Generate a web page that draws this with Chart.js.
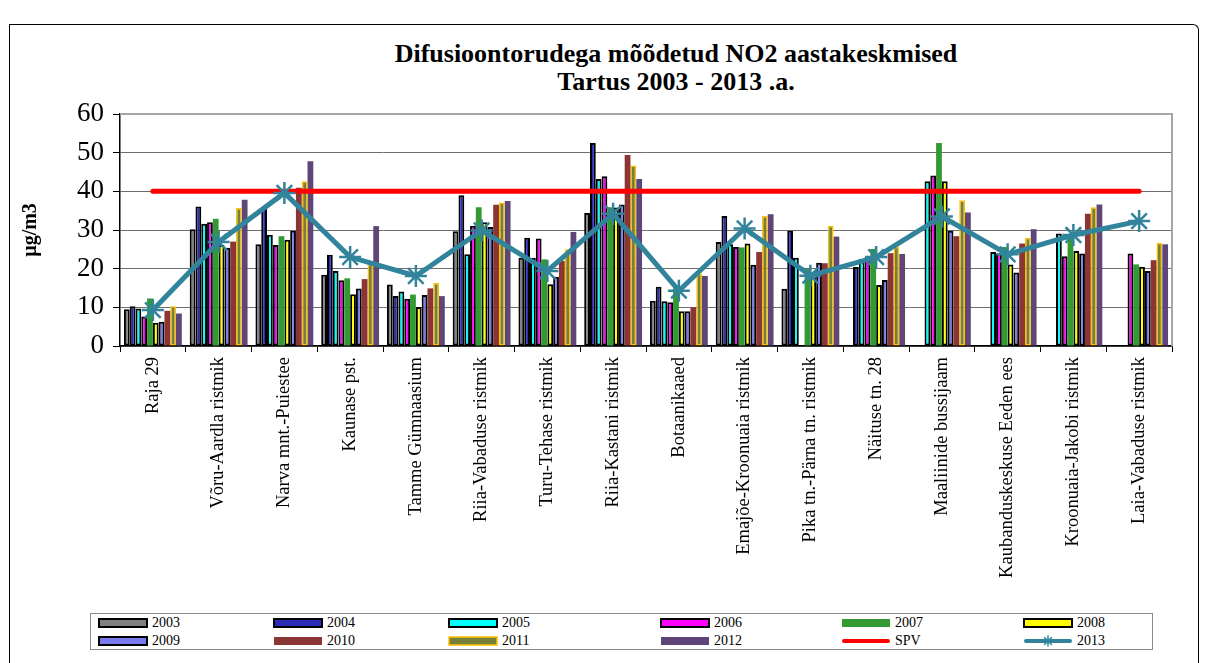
<!DOCTYPE html>
<html>
<head>
<meta charset="utf-8">
<script src="https://cdn.jsdelivr.net/npm/chart.js@4.4.1/dist/chart.umd.min.js"></script>
<style>
  body { margin: 0; background: #fff; }
  #page { position: relative; width: 1205px; height: 663px; overflow: hidden; font-family: "Liberation Serif", "Times New Roman", serif; }
  #frame { position: absolute; left: 9px; top: 24px; width: 1188px; height: 700px; border-left: 1px solid #000; border-top: 1px solid #000; border-right: 1px solid #000; border-top-right-radius: 6px; }
  #title { position: absolute; left: 276px; top: 40px; width: 800px; text-align: center; font-weight: bold; font-size: 26px; line-height: 28px; color: #000; }
  #c { position: absolute; left: 0; top: 0; }
  #legend { position: absolute; left: 90px; top: 613px; width: 1061px; height: 35px; border: 1px solid #8c8c8c; background: #fff; }
  .item { position: absolute; height: 16px; font-size: 14px; line-height: 16px; color: #000; white-space: nowrap; }
  .item canvas { vertical-align: middle; margin-right: 4px; position: relative; top: -1px; }
</style>
</head>
<body>
<div id="page">
  <div id="frame"></div>
  <div id="title">Difusioontorudega mõõdetud NO2 aastakeskmised<br>Tartus 2003 - 2013 .a.</div>
  <canvas id="c" width="1205" height="663"></canvas>
  <div id="legend"></div>
</div>
<script>
const stations = ['Raja 29', 'Võru-Aardla ristmik', 'Narva mnt.-Puiestee', 'Kaunase pst.', 'Tamme Gümnaasium',
    'Riia-Vabaduse ristmik', 'Turu-Tehase ristmik', 'Riia-Kastani ristmik', 'Botaanikaaed',
    'Emajõe-Kroonuaia ristmik', 'Pika tn.-Pärna tn. ristmik', 'Näituse tn. 28', 'Maaliinide bussijaam',
    'Kaubanduskeskuse Eeden ees', 'Kroonuaia-Jakobi ristmik', 'Laia-Vabaduse ristmik'];

const years = ['2003', '2004', '2005', '2006', '2007', '2008', '2009', '2010', '2011', '2012'];

const y2003 = [9.5, 30.2, 26.3, 18.4, 15.9, 29.7, 22.8, 34.4, 11.7, 26.9, 14.8, null, null, null, null, null];
const y2004 = [10.3, 36.1, 35.8, 23.6, 12.9, 39.0, 28.0, 52.5, 15.3, 33.6, 29.8, 20.4, null, null, null, null];
const y2005 = [9.7, 31.6, 28.8, 19.4, 14.1, 23.7, 22.8, 43.2, 11.6, 26.3, 22.8, 22.5, 42.6, 24.3, 29.1, null];
const y2006 = [7.6, 32.0, 26.1, 17.0, 12.2, 31.1, 27.8, 43.9, 11.3, 25.6, null, 23.0, 44.1, 23.9, 23.2, 23.9];
const y2007 = [12.3, 32.9, 28.4, 17.5, 13.3, 35.9, 22.4, 35.9, 14.9, 25.5, 19.9, 25.1, 52.5, 25.6, 28.4, 21.1];
const y2008 = [6.0, 26.2, 27.5, 13.4, 10.1, 32.0, 16.0, 35.8, 9.0, 26.5, 17.8, 15.8, 42.6, 21.1, 24.6, 20.5];
const y2009 = [6.3, 25.4, 29.8, 14.9, 13.2, 30.8, 17.9, 36.6, 9.0, 21.0, 21.5, 17.1, 29.8, 19.0, 23.9, 19.4];
const y2010 = [9.1, 27.0, 40.9, 17.3, 14.9, 36.5, 22.0, 49.4, 10.0, 24.3, 21.4, 24.0, 28.4, 26.5, 34.2, 22.2];
const y2011 = [10.3, 35.7, 42.6, 21.3, 16.3, 37.1, 25.0, 46.7, 18.7, 33.6, 31.1, 25.7, 37.7, 28.0, 35.9, 26.7];
const y2012 = [8.4, 37.8, 47.8, 31.0, 12.9, 37.5, 29.5, 43.2, 18.1, 34.1, 28.3, 23.8, 34.5, 30.2, 36.6, 26.3];
const y2013 = [9.3, 26.9, 39.6, 23.0, 18.1, 29.9, 19.4, 34.2, 14.3, 30.4, 18.2, 23.0, 33.5, 23.7, 28.7, 32.3];
const spv = [40, 40, 40, 40, 40, 40, 40, 40, 40, 40, 40, 40, 40, 40, 40, 40];

const barValues = [y2003, y2004, y2005, y2006, y2007, y2008, y2009, y2010, y2011, y2012];
const barFill = ['#808080', '#2B2BB8', '#00FFFF', '#FF00FF', '#339933', '#FFFF00', '#7B7BF0', '#8B3535', '#77803A', '#5E4778'];
const barEdge = ['#000', '#000', '#000', '#000', '#339933', '#000', '#000', '#8B3535', '#FFC000', '#5E4778'];
const barEdgeWidth = [2, 2, 2, 2, 0, 2, 2, 0, 1.5, 0];

const plotBorder = {
    id: 'plotBorder',
    beforeDatasetsDraw(chart) {
        const a = chart.chartArea;
        const c = chart.ctx;
        c.save();
        c.strokeStyle = '#a6a6a6';
        c.lineWidth = 2;
        c.beginPath();
        c.moveTo(a.left, a.top);
        c.lineTo(a.right, a.top);
        c.lineTo(a.right, a.bottom);
        c.stroke();
        c.restore();
    }
};

const datasets = barValues.map((vals, i) => ({
    type: 'bar',
    label: years[i],
    data: vals,
    backgroundColor: barFill[i],
    borderColor: barEdge[i],
    borderWidth: barEdgeWidth[i],
    borderSkipped: false,
    categoryPercentage: 0.88,
    barPercentage: 1.0,
    order: 3
}));

datasets.push({
    type: 'line',
    label: 'SPV',
    data: spv,
    borderColor: '#FF0000',
    borderWidth: 5,
    borderCapStyle: 'round',
    pointRadius: 0,
    order: 2
});

datasets.push({
    type: 'line',
    label: '2013',
    data: y2013,
    borderColor: '#31849B',
    borderWidth: 5,
    pointStyle: 'star',
    pointRadius: 11,
    pointBorderWidth: 2.5,
    pointBorderColor: '#31849B',
    pointBackgroundColor: '#31849B',
    order: 1
});

Chart.defaults.font.family = '"Liberation Serif", "Times New Roman", serif';
Chart.defaults.color = '#000';

const chart = new Chart(document.getElementById('c').getContext('2d'), {
    type: 'bar',
    data: { labels: stations, datasets: datasets },
    options: {
        responsive: false,
        animation: false,
        devicePixelRatio: 1,
        layout: { padding: { left: 0, top: 114, right: 33, bottom: 0 } },
        plugins: {
            legend: { display: false },
            title: { display: false },
            tooltip: { enabled: false }
        },
        scales: {
            x: {
                grid: { display: true, drawOnChartArea: false, offset: true, tickLength: 6, color: '#000' },
                border: { color: '#000', width: 1.5 },
                ticks: { autoSkip: false, minRotation: 90, maxRotation: 90, padding: 5, font: { size: 18.5 } },
                afterFit(s) { s.height = 663 - 346; }
            },
            y: {
                min: 0,
                max: 60,
                ticks: { stepSize: 10, padding: 9, font: { size: 27 } },
                grid: {
                    color: ctx => (ctx.tick && ctx.tick.value === 60) ? '#a6a6a6' : '#6e6e6e',
                    tickColor: '#000',
                    tickLength: 7,
                    lineWidth: 1
                },
                border: { color: '#000', width: 1.5 },
                title: { display: true, text: 'µg/m3', font: { size: 20, weight: 'bold' }, padding: { top: 19, bottom: 0 } },
                afterFit(s) { s.width = 120; }
            }
        }
    },
    plugins: [plotBorder]
});

// legend: 2 rows x 6 columns, like the Excel one
const colLeft = [98, 273, 448, 660, 841, 1023];
const legend = document.getElementById('legend');
chart.data.datasets.forEach((ds, i) => {
    const row = Math.floor(i / 6);
    const col = i % 6;
    const item = document.createElement('div');
    item.className = 'item';
    item.style.left = (colLeft[col] - 91) + 'px';
    item.style.top = (row === 0 ? 1 : 19) + 'px';
    const sw = document.createElement('canvas');
    sw.width = 50;
    sw.height = 12;
    const g = sw.getContext('2d');
    if (ds.type === 'bar') {
        g.fillStyle = ds.backgroundColor;
        g.fillRect(1, 2, 48, 8);
        if (ds.borderWidth > 0) {
            g.strokeStyle = ds.borderColor;
            g.lineWidth = ds.borderWidth;
            g.strokeRect(1, 2, 48, 8);
        }
    } else {
        g.strokeStyle = ds.borderColor;
        g.lineWidth = 4;
        g.lineCap = 'round';
        g.beginPath();
        g.moveTo(3, 6);
        g.lineTo(47, 6);
        g.stroke();
        if (ds.pointStyle === 'star') {
            g.lineWidth = 1.5;
            g.beginPath();
            for (let k = 0; k < 4; k++) {
                const a = k * Math.PI / 4;
                g.moveTo(25 - 5 * Math.cos(a), 6 - 5 * Math.sin(a));
                g.lineTo(25 + 5 * Math.cos(a), 6 + 5 * Math.sin(a));
            }
            g.stroke();
        }
    }
    item.appendChild(sw);
    item.appendChild(document.createTextNode(ds.label));
    legend.appendChild(item);
});
</script>
</body>
</html>
